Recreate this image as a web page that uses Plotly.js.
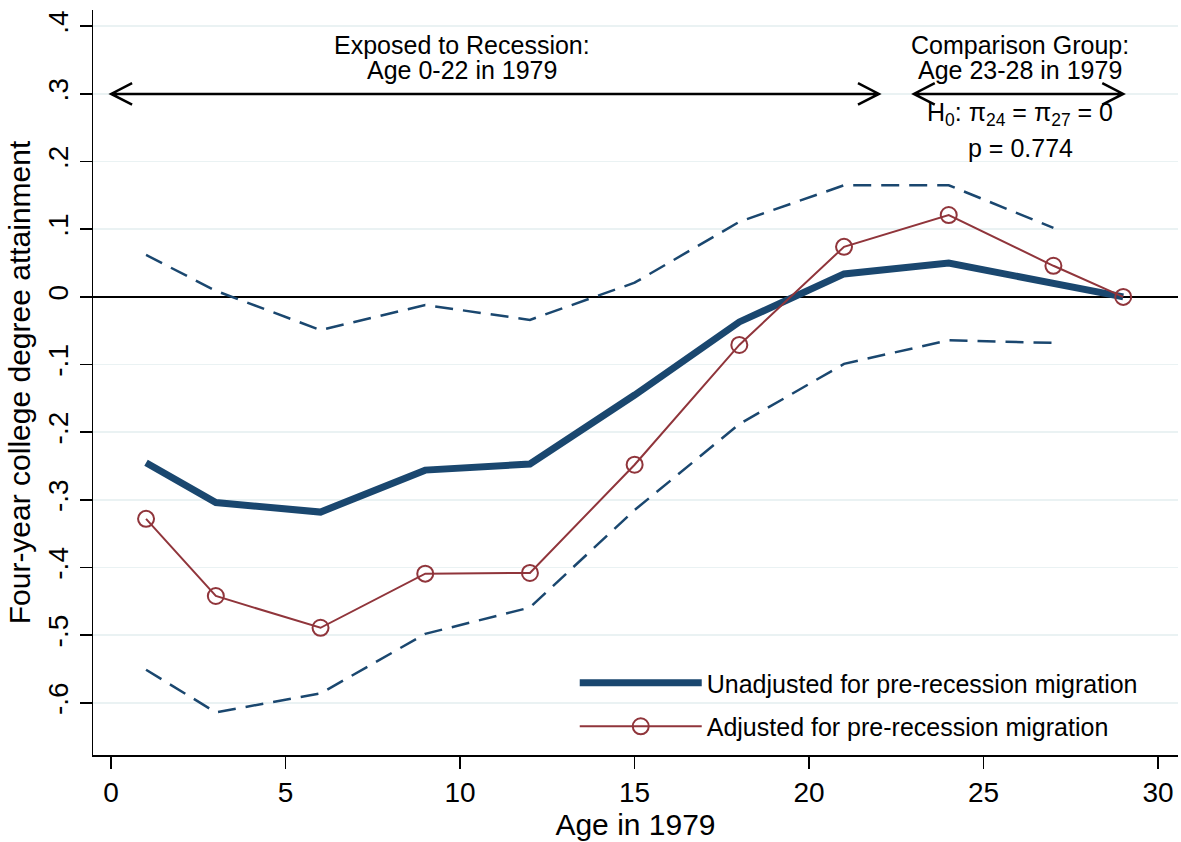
<!DOCTYPE html>
<html>
<head>
<meta charset="utf-8">
<script src="https://cdn.plot.ly/plotly-3.0.1.min.js"></script>
<style>html,body{margin:0;padding:0;background:#fff;}#chart{width:1181px;height:842px;}</style>
</head>
<body>
<div id="chart"></div>
<script>
// Data
var ages = [1, 3, 6, 9, 12, 15, 18, 21, 24, 27, 29];
var unadjusted = [-0.245, -0.304, -0.318, -0.256, -0.247, -0.145, -0.037, 0.034, 0.050, 0.019, 0.0];
var adjusted = [-0.328, -0.442, -0.489, -0.409, -0.408, -0.248, -0.071, 0.074, 0.121, 0.046, 0.0];
var ciAges = [1, 3, 6, 9, 12, 15, 18, 21, 24, 27];
var ciUpper = [0.062, 0.009, -0.049, -0.012, -0.034, 0.021, 0.111, 0.165, 0.165, 0.102];
var ciLower = [-0.551, -0.614, -0.586, -0.498, -0.459, -0.315, -0.188, -0.099, -0.064, -0.068];
var yTickVals = [-0.6, -0.5, -0.4, -0.3, -0.2, -0.1, 0, 0.1, 0.2, 0.3, 0.4];
var yTickText = ["-.6", "-.5", "-.4", "-.3", "-.2", "-.1", "0", ".1", ".2", ".3", ".4"];
var xTickVals = [0, 5, 10, 15, 20, 25, 30];
var legendNames = ["Unadjusted for pre-recession migration", "Adjusted for pre-recession migration"];

var navy = "#1a476f";
var maroon = "#90353b";
var font = "Liberation Sans, Arial, Helvetica, sans-serif";

var traces = [
  {x: ciAges, y: ciUpper, mode: "lines", line: {color: navy, width: 2.5, dash: "18px,10px"}, showlegend: false, hoverinfo: "skip"},
  {x: ciAges, y: ciLower, mode: "lines", line: {color: navy, width: 2.5, dash: "18px,10px"}, showlegend: false, hoverinfo: "skip"},
  {x: ages, y: unadjusted, mode: "lines", name: legendNames[0], legendgroup: "a", line: {color: navy, width: 7}},
  {x: ages, y: adjusted, mode: "lines+markers", name: legendNames[1], legendgroup: "b", line: {color: maroon, width: 2},
   marker: {symbol: "circle-open", size: 16, color: maroon, line: {width: 2, color: maroon}}}
];

// arrow geometry (annotation guides)
var arrowY = 0.3, ah = 0.6, av = 0.016;
function arrowPath(x0, x1) {
  return "M" + x0 + "," + arrowY + " L" + x1 + "," + arrowY +
    " M" + (x0 + ah) + "," + (arrowY + av) + " L" + x0 + "," + arrowY + " L" + (x0 + ah) + "," + (arrowY - av) +
    " M" + (x1 - ah) + "," + (arrowY + av) + " L" + x1 + "," + arrowY + " L" + (x1 - ah) + "," + (arrowY - av);
}

function note(x, y, text) {
  return {x: x, y: y, xref: "x", yref: "y", text: text, showarrow: false,
          font: {size: 25, family: font, color: "#000"}, yanchor: "middle", xanchor: "center"};
}

var layout = {
  width: 1181, height: 842,
  margin: {l: 93, r: 3, t: 10, b: 87},
  paper_bgcolor: "#fff", plot_bgcolor: "#fff",
  font: {family: font, color: "#000"},
  showlegend: true,
  legend: {x: 0.444, y: 0.008, xanchor: "left", yanchor: "bottom", bgcolor: "rgba(255,255,255,0)",
           traceorder: "grouped", tracegroupgap: 8,
           font: {size: 25, family: font, color: "#000"}, itemwidth: 122},
  xaxis: {range: [-0.52, 30.57], tickvals: xTickVals, ticks: "outside", ticklen: 12, tickwidth: 1.5, tickcolor: "#000",
          showline: true, linecolor: "#000", linewidth: 1.5, showgrid: false, zeroline: false,
          tickfont: {size: 28, family: font}, title: {text: "Age in 1979", font: {size: 30, family: font}, standoff: 4}},
  yaxis: {range: [-0.677, 0.424], tickvals: yTickVals, ticktext: yTickText, tickangle: -90,
          ticks: "outside", ticklen: 12, tickwidth: 1.5, tickcolor: "#000",
          showline: true, linecolor: "#000", linewidth: 1.5, showgrid: true, gridcolor: "#eaf2f3", gridwidth: 1.5,
          zeroline: true, zerolinecolor: "#000", zerolinewidth: 2,
          tickfont: {size: 28, family: font}, title: {text: "Four-year college degree attainment", font: {size: 30, family: font}, standoff: 4}},
  shapes: [
    {type: "path", xref: "x", yref: "y", path: arrowPath(0, 22), line: {color: "#000", width: 2.5}},
    {type: "path", xref: "x", yref: "y", path: arrowPath(23, 29), line: {color: "#000", width: 2.5}}
  ],
  annotations: [
    note(10.05, 0.372, "Exposed to Recession:"),
    note(10.05, 0.336, "Age 0-22 in 1979"),
    note(26.05, 0.372, "Comparison Group:"),
    note(26.05, 0.336, "Age 23-28 in 1979"),
    note(26.05, 0.270, "H<sub>0</sub>: π<sub>24</sub> = π<sub>27</sub> = 0"),
    note(26.05, 0.220, "p = 0.774")
  ]
};

Plotly.newPlot("chart", traces, layout, {displayModeBar: false, staticPlot: true});
</script>
</body>
</html>
